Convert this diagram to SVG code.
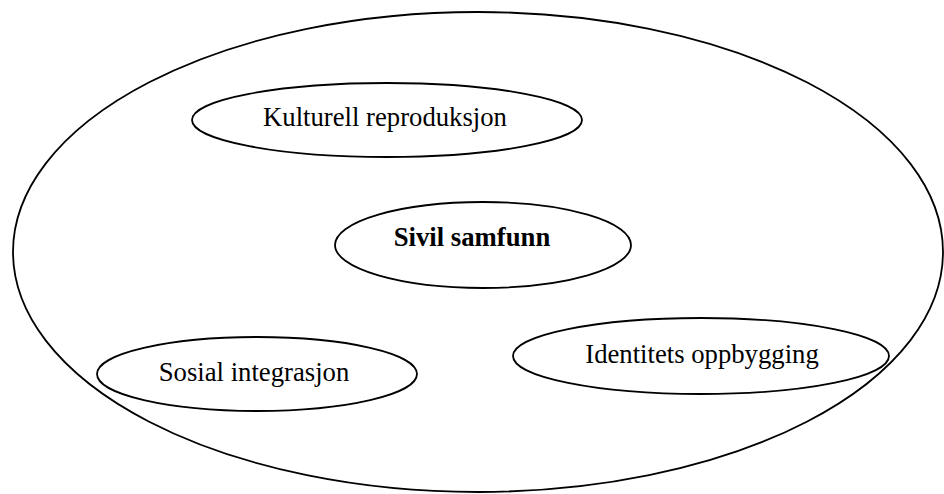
<svg xmlns="http://www.w3.org/2000/svg" width="944" height="494" viewBox="0 0 944 494">
<style>
.e{fill:none;stroke:#000;stroke-width:1.8}
.t{font-family:"Liberation Serif","Times New Roman",serif;font-size:26.7px;fill:#000;text-anchor:middle}
.b{font-weight:bold}
</style>
<rect width="944" height="494" fill="#fff"/>
<g id="sivilsamfunn-outer"><ellipse class="e" cx="478" cy="252" rx="465" ry="240"/></g>
<g id="kulturell"><ellipse class="e" cx="387" cy="120" rx="195" ry="37"/><text class="t" x="385" y="126">Kulturell reproduksjon</text></g>
<g id="sivil"><ellipse class="e" cx="483" cy="245" rx="148" ry="43"/><text class="t b" x="472" y="246">Sivil samfunn</text></g>
<g id="sosial"><ellipse class="e" cx="257" cy="374" rx="160" ry="37"/><text class="t" x="254" y="381">Sosial integrasjon</text></g>
<g id="identitet"><ellipse class="e" cx="701" cy="356" rx="188" ry="38"/><text class="t" x="702" y="363">Identitets oppbygging</text></g>
<g id="connectors"></g>
</svg>
